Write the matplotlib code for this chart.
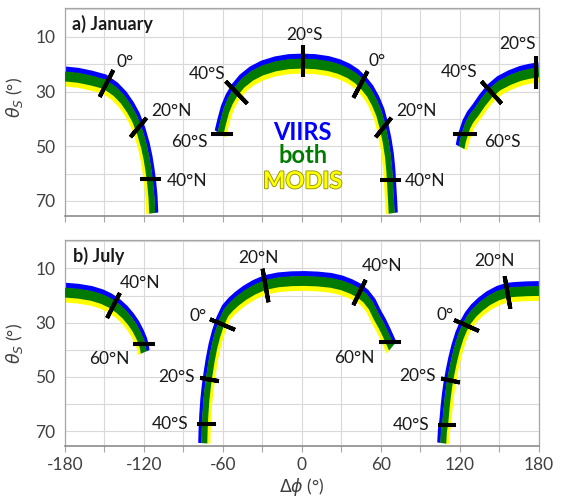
import numpy as np
import matplotlib.pyplot as plt
import matplotlib.patheffects as pe

plt.rcParams['font.family'] = ['Lato', 'DejaVu Sans']

VIIRS_COLOR = '#0000ff'
BOTH_COLOR = '#007a00'
MODIS_COLOR = '#ffff00'

# centre line of the "both" band: relative azimuth (deg) and solar zenith (deg)
# January
jan_west_phi = [-180, -170, -160, -150, -142, -136, -131, -127, -123, -120,
                -118, -116.5, -115.3, -114.3, -113.7]
jan_west_theta = [24.5, 25.0, 26.0, 27.3, 30.0, 33.0, 36.5, 40.0, 45.0, 50.0,
                  54.5, 59.0, 63.5, 68.5, 74.5]
jan_mid_phi = [-62, -60, -57.5, -54.5, -50.5, -45, -38, -30, -20, -10, 0, 10,
               20, 28, 35, 41, 46, 51, 55, 58.5, 61.3, 63.5, 65.3, 66.4, 67.1,
               67.7, 68.2]
jan_mid_theta = [45.5, 41.5, 37.0, 33.5, 30.2, 27.0, 24.3, 22.3, 20.8, 20.0,
                 19.8, 20.0, 20.7, 21.8, 23.3, 25.2, 27.5, 30.5, 34.0, 38.0,
                 43.0, 48.0, 53.5, 59.0, 65.0, 70.0, 74.5]
jan_east_phi = [121.2, 122.2, 123.7, 125.8, 128.5, 132.5, 137.5, 143.2, 150.0,
                158.0, 166.0, 173.0, 180.0]
jan_east_theta = [50.5, 48.0, 45.6, 42.5, 40.0, 37.5, 34.0, 30.6, 27.8, 25.8,
                  24.3, 23.5, 23.0]

# July
jul_west_phi = [-180, -170, -160, -152, -146, -140, -135, -130.5, -127, -124,
                -121.8, -120.8, -120.2]
jul_west_theta = [18.9, 19.3, 20.1, 21.3, 22.7, 24.7, 26.9, 29.5, 32.0, 34.8,
                  37.3, 39.2, 41.0]
jul_mid_phi = [-74.2, -73.9, -73.4, -72.6, -71.5, -70.2, -68.6, -66.6, -64.2,
               -61.0, -57.5, -53.5, -49.0, -43.0, -36.0, -28.0, -18.0, -8.0,
               2.0, 12.0, 22.0, 30.0, 37.0, 43.0, 48.0, 52.5, 56.5, 60.0, 63.2,
               65.8, 68.0]
jul_mid_theta = [74.5, 69.0, 64.0, 58.5, 53.5, 49.0, 44.0, 39.0, 34.5, 29.8,
                 26.2, 24.0, 22.0, 19.8, 17.8, 16.1, 15.1, 14.7, 14.6, 14.8,
                 15.3, 16.2, 17.5, 19.0, 21.0, 23.8, 27.8, 30.8, 34.0, 36.8,
                 39.2]
jul_east_phi = [107.3, 107.8, 108.9, 109.8, 110.8, 112.0, 113.6, 115.5, 117.8,
                120.5, 123.5, 127.0, 131.0, 136.0, 142.0, 149.0, 156.0, 163.0,
                171.0, 180.0]
jul_east_theta = [74.5, 70.0, 66.5, 61.5, 57.0, 52.8, 48.5, 44.0, 39.5, 35.3,
                  31.8, 28.8, 26.3, 24.0, 21.8, 20.0, 18.9, 18.6, 18.4, 18.3]

# latitude markers: label, phi, theta, marker angle (deg), length (px)
jan_marks = [
    ('0°', -149.0, 27.0, 63, 30),
    ('20°N', -124.6, 43.0, 50, 25),
    ('40°N', -115.2, 62.1, 0, 21),
    ('60°S', -61.0, 45.6, 0, 23),
    ('40°S', -50.3, 30.1, -46, 31),
    ('20°S', 0.5, 18.7, 90, 32),
    ('0°', 44.2, 27.1, 62, 30),
    ('20°N', 61.3, 43.0, 51, 25),
    ('40°N', 66.5, 62.4, 0, 21),
    ('60°S', 123.5, 45.6, 0, 24),
    ('40°S', 143.2, 30.1, -48, 30),
    ('20°S', 177.6, 22.7, 90, 33),
]
jan_label_pos = [(-134.7, 19.3), (-99.0, 37.3), (-87.6, 62.7), (-85.8, 48.6),
                 (-72.0, 23.5), (1.6, 9.3), (56.7, 18.7), (87.3, 37.0),
                 (93.3, 62.7), (152.2, 48.6), (119.0, 23.0), (163.6, 12.6)]

jul_marks = [
    ('40°N', -143.6, 23.6, 63, 28),
    ('60°N', -119.8, 37.8, 0, 23),
    ('20°N', -28.4, 16.0, -80, 34),
    ('0°', -61.0, 30.5, -23, 27),
    ('20°S', -70.8, 50.9, -10, 19),
    ('40°S', -73.2, 67.2, 0, 19),
    ('40°N', 43.1, 18.7, 64, 28),
    ('60°N', 66.8, 37.1, 0, 23),
    ('0°', 124.9, 30.9, -24, 27),
    ('20°S', 112.7, 51.1, -12, 19),
    ('40°S', 110.2, 67.7, 0, 18),
    ('20°N', 155.6, 18.8, -80, 33),
]
jul_label_pos = [(-123.1, 15.3), (-146.6, 43.5), (-33.2, 6.1), (-79.2, 27.6),
                 (-95.5, 50.0), (-100.5, 67.2), (61.1, 9.2), (39.6, 42.9),
                 (108.5, 27.0), (87.9, 49.7), (82.6, 67.7), (146.1, 7.4)]


def draw_band(ax, phi, theta, sx=4.6, sy=3.65):
    # offsets are taken in a scaled space so the band is ~20 px tall on flat
    # parts and ~12 px wide where it runs vertically, like the original
    u = np.asarray(phi, float) / sx
    v = np.asarray(theta, float) / sy
    du, dv = np.gradient(u), np.gradient(v)
    nrm = np.hypot(du, dv)
    nu, nv = dv / nrm, -du / nrm  # towards the outer / low theta side

    def strip(k1, k2, color, z):
        x1, y1 = (u + k1 * nu) * sx, (v + k1 * nv) * sy
        x2, y2 = (u + k2 * nu) * sx, (v + k2 * nv) * sy
        ax.fill(np.r_[x1, x2[::-1]], np.r_[y1, y2[::-1]], color=color,
                lw=0, zorder=z)

    strip(1.0, 0.45, VIIRS_COLOR, 2)
    strip(-0.45, -1.0, MODIS_COLOR, 2)
    strip(0.5, -0.5, BOTH_COLOR, 3)


def draw_marks(ax, marks, label_pos):
    for (lab, p, t, ang, length), (lp, lt) in zip(marks, label_pos):
        ax.plot([p], [t], ls='none', marker=(2, 2, ang - 90),
                ms=length * 0.72, mew=2.9, color='black', zorder=5)
        ax.text(lp, lt, lab, ha='center', va='center', fontsize=12.5,
                color='#1a1a1a', zorder=6)


def style_axes(ax, xlabels):
    ax.set_xlim(-180, 180)
    ax.set_ylim(75.5, -0.5)
    xt = np.arange(-180, 181, 30)
    yt = np.arange(0, 71, 10)
    ax.set_xticks(xt)
    ax.set_yticks(yt)
    if xlabels:
        ax.set_xticklabels([str(v) if v % 60 == 0 else '' for v in xt])
    else:
        ax.set_xticklabels([''] * len(xt))
    ax.set_yticklabels([str(v) if v % 20 == 10 else '' for v in yt])
    ax.grid(True, color='#d9d9d9', lw=0.8)
    ax.set_axisbelow(True)
    ax.tick_params(axis='x', direction='out', length=4, width=0.8,
                   color='#a6a6a6', labelsize=12.5, labelcolor='#404040', pad=4)
    ax.tick_params(axis='y', length=0, labelsize=12.5, labelcolor='#404040',
                   pad=7)
    for side in ('top', 'left', 'right'):
        ax.spines[side].set_color('#a6a6a6')
        ax.spines[side].set_linewidth(0.9)
    ax.spines['bottom'].set_color('#8c8c8c')
    ax.spines['bottom'].set_linewidth(1.2)


fig = plt.figure(figsize=(5.69, 4.99), dpi=100)
ax_a = fig.add_axes([0.1142, 0.5671, 0.8330, 0.4168])
ax_b = fig.add_axes([0.1142, 0.1062, 0.8330, 0.4128])

style_axes(ax_a, False)
style_axes(ax_b, True)

for p, t in [(jan_west_phi, jan_west_theta), (jan_mid_phi, jan_mid_theta),
             (jan_east_phi, jan_east_theta)]:
    draw_band(ax_a, p, t)
for p, t in [(jul_west_phi, jul_west_theta), (jul_mid_phi, jul_mid_theta),
             (jul_east_phi, jul_east_theta)]:
    draw_band(ax_b, p, t)

draw_marks(ax_a, jan_marks, jan_label_pos)
draw_marks(ax_b, jul_marks, jul_label_pos)

ax_a.text(0.014, 0.894, 'a) January', transform=ax_a.transAxes, ha='left',
          va='baseline', fontsize=13, fontweight='bold', color='#1a1a1a')
ax_b.text(0.017, 0.893, 'b) July', transform=ax_b.transAxes, ha='left',
          va='baseline', fontsize=13, fontweight='bold', color='#1a1a1a')

ax_a.text(0.5, 47.7, 'VIIRS', ha='center', va='baseline', fontsize=17,
          fontweight='bold', color=VIIRS_COLOR, zorder=6)
ax_a.text(0.5, 56.3, 'both', ha='center', va='baseline', fontsize=17,
          fontweight='bold', color=BOTH_COLOR, zorder=6)
ax_a.text(0.5, 65.4, 'MODIS', ha='center', va='baseline', fontsize=17,
          fontweight='bold', color=MODIS_COLOR, zorder=6,
          path_effects=[pe.withStroke(linewidth=1.2, foreground='#8f8f00')])

for ax, ly in ((ax_a, 0.57), (ax_b, 0.50)):
    ax.set_ylabel(r'$\theta_S$ (°)', fontsize=12.5, color='#404040')
    ax.yaxis.set_label_coords(-0.085, ly)
ax_b.set_xlabel(r'$\Delta\phi$ (°)', fontsize=12.5, color='#404040')
ax_b.xaxis.set_label_coords(0.5, -0.148)

fig.savefig('out.png', dpi=100)
